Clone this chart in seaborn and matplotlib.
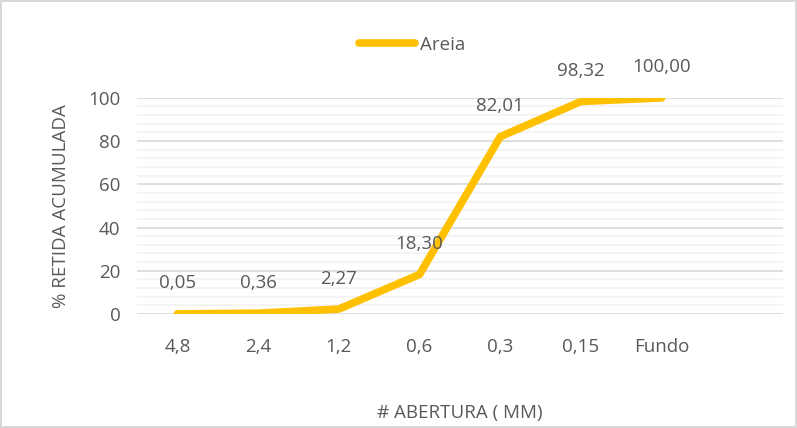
import matplotlib
matplotlib.use("Agg")
import matplotlib.pyplot as plt
import seaborn as sns
import pandas as pd
from matplotlib.ticker import MultipleLocator

categories = ["4,8", "2,4", "1,2", "0,6", "0,3", "0,15", "Fundo"]
values = [0.05, 0.36, 2.27, 18.30, 82.01, 98.32, 100.00]
labels = ["0,05", "0,36", "2,27", "18,30", "82,01", "98,32", "100,00"]
series_name = "Areia"

sns.set_style("white")
plt.rcParams['font.family'] = ['Open Sans', 'DejaVu Sans']
txt = "#595959"
fs = 13.5

fig = plt.figure(figsize=(7.97, 4.28), dpi=100)
fig.patch.set_edgecolor("#D9D9D9")
fig.patch.set_linewidth(1.5)
ax = fig.add_axes([0.172, 0.2664, 0.81, 0.505])

df = pd.DataFrame({"x": range(len(categories)), "y": values})
sns.lineplot(data=df, x="x", y="y", ax=ax, color="#FFC000", linewidth=5.5,
             solid_capstyle="round", solid_joinstyle="miter", label=series_name, zorder=3)

ax.set_xlim(-0.5, 7.5)
ax.set_ylim(0, 100)
ax.yaxis.set_major_locator(MultipleLocator(20))
ax.yaxis.set_minor_locator(MultipleLocator(4))
ax.grid(which="major", axis="y", color="#D9D9D9", linewidth=1.2)
ax.grid(which="minor", axis="y", color="#F2F2F2", linewidth=1.2)
ax.grid(axis="x", visible=False)
ax.set_axisbelow(True)
for s in ax.spines.values():
    s.set_visible(False)
ax.set_xticks(range(len(categories)))
ax.set_xticklabels(categories)
ax.tick_params(axis="both", which="both", length=0, labelsize=fs, colors=txt)
ax.tick_params(axis="x", pad=17)
ax.tick_params(axis="y", pad=12)
ax.set_xlabel("# ABERTURA ( MM)", fontsize=fs, color=txt, labelpad=35)
ax.set_ylabel("% RETIDA ACUMULADA", fontsize=fs, color=txt, labelpad=13)

for i, (v, lab) in enumerate(zip(values, labels)):
    ax.annotate(lab, (i, v), xytext=(0, 22), textcoords="offset points",
                ha="center", va="center", fontsize=fs, color=txt, annotation_clip=False)

leg = ax.legend(loc="center", bbox_to_anchor=(412/797, 1 - 45/428),
                bbox_transform=fig.transFigure, frameon=False, fontsize=fs,
                handlelength=3.0, handletextpad=0.25)
for t in leg.get_texts():
    t.set_color(txt)

fig.savefig("out.png", dpi=100)
